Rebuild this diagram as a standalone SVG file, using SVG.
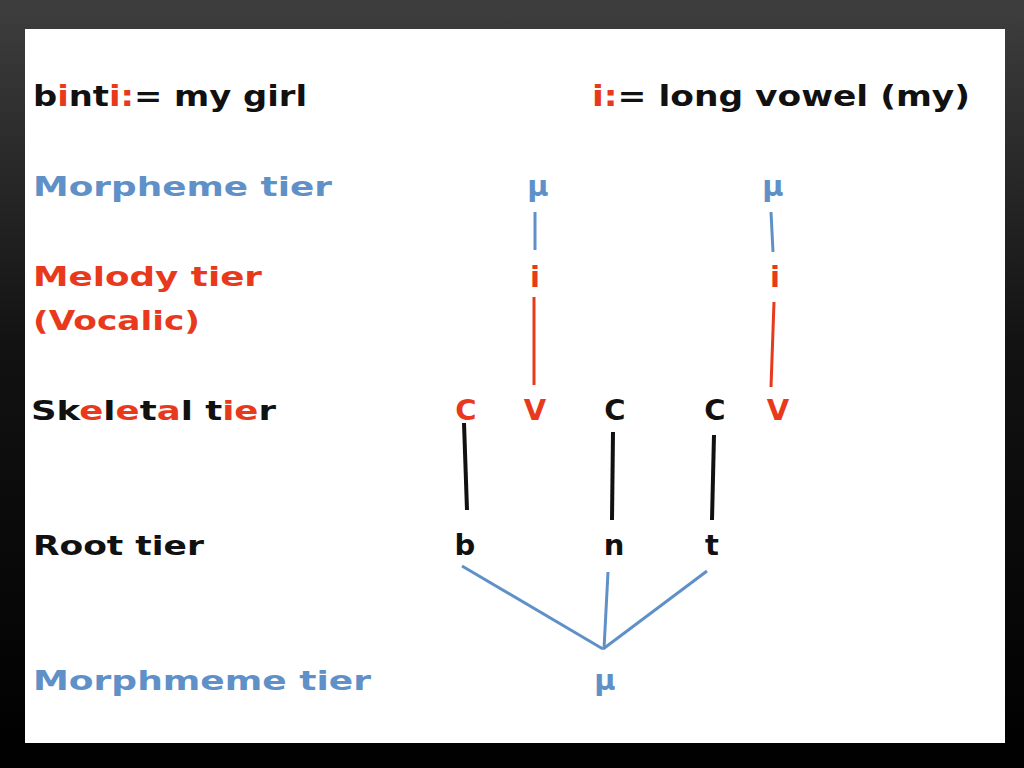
<svg xmlns="http://www.w3.org/2000/svg" width="1024" height="768" viewBox="0 0 1024 768">
<defs>
<linearGradient id="bg" x1="0" y1="0" x2="0" y2="1">
<stop offset="0" stop-color="#3e3e3e"/>
<stop offset="0.45" stop-color="#121212"/>
<stop offset="1" stop-color="#000"/>
</linearGradient>
<style>
.t{font-family:"DejaVu Sans","Verdana",sans-serif;font-weight:bold;font-size:27px}
.h{font-family:"DejaVu Sans","Verdana",sans-serif;font-weight:bold;font-size:28px;fill:#111}
.s{font-family:"DejaVu Sans","Verdana",sans-serif;font-weight:bold;font-size:29px;text-anchor:middle}
.blue{fill:#5f91c8}
.red{fill:#e8391d}
.blk{fill:#111}
.lb{stroke:#5f91c8;stroke-width:3;fill:none}
.lr{stroke:#e8391d;stroke-width:3;fill:none}
.lk{stroke:#111;stroke-width:4;fill:none}
</style>
</defs>
<rect width="1024" height="768" fill="url(#bg)"/>
<rect x="25" y="29" width="980" height="714" fill="#fff"/>

<g id="header">
<text class="h" x="33" y="106" textLength="274" lengthAdjust="spacingAndGlyphs">b<tspan class="red">i</tspan>nt<tspan class="red">i:</tspan>= my girl</text>
<text class="h" x="592" y="106" textLength="378" lengthAdjust="spacingAndGlyphs"><tspan class="red">i:</tspan>= long vowel (my)</text>
</g>

<g id="labels">
<text class="t blue" x="33" y="196" textLength="299" lengthAdjust="spacingAndGlyphs">Morpheme tier</text>
<text class="t red" x="33" y="286" textLength="229" lengthAdjust="spacingAndGlyphs">Melody tier</text>
<text class="t red" x="33" y="330" textLength="167" lengthAdjust="spacingAndGlyphs">(Vocalic)</text>
<text class="t blk" x="31" y="420" textLength="245" lengthAdjust="spacingAndGlyphs">Sk<tspan class="red">e</tspan>l<tspan class="red">e</tspan>t<tspan class="red">a</tspan>l t<tspan class="red">ie</tspan>r</text>
<text class="t blk" x="33" y="555" textLength="171" lengthAdjust="spacingAndGlyphs">Root tier</text>
<text class="t blue" x="33" y="690" textLength="338" lengthAdjust="spacingAndGlyphs">Morphmeme tier</text>
</g>

<g id="connectors">
<line class="lb" x1="535" y1="212" x2="535" y2="250"/>
<line class="lb" x1="771" y1="212" x2="773" y2="252"/>
<line class="lr" x1="534" y1="297" x2="534" y2="385"/>
<line class="lr" x1="774" y1="302" x2="771" y2="387"/>
<line class="lk" x1="464" y1="423" x2="467" y2="510"/>
<line class="lk" x1="613" y1="432" x2="612" y2="520"/>
<line class="lk" x1="714" y1="435" x2="712" y2="520"/>
<line class="lb" x1="462" y1="566" x2="603" y2="649"/>
<line class="lb" x1="608" y1="572" x2="604" y2="649"/>
<line class="lb" x1="707" y1="571" x2="603" y2="649"/>
</g>

<g id="mu1"><text class="s blue" x="538" y="196">μ</text></g>
<g id="mu2"><text class="s blue" x="773" y="196">μ</text></g>
<g id="i1"><text class="s red" x="535" y="287">i</text></g>
<g id="i2"><text class="s red" x="775" y="287">i</text></g>
<g id="C1"><text class="s red" x="466" y="420">C</text></g>
<g id="V1"><text class="s red" x="535" y="420">V</text></g>
<g id="C2"><text class="s blk" x="615" y="420">C</text></g>
<g id="C3"><text class="s blk" x="715" y="420">C</text></g>
<g id="V2"><text class="s red" x="778" y="420">V</text></g>
<g id="b"><text class="s blk" x="465" y="555">b</text></g>
<g id="n"><text class="s blk" x="614" y="555">n</text></g>
<g id="t"><text class="s blk" x="712" y="555">t</text></g>
<g id="mu3"><text class="s blue" x="605" y="690">μ</text></g>
</svg>
